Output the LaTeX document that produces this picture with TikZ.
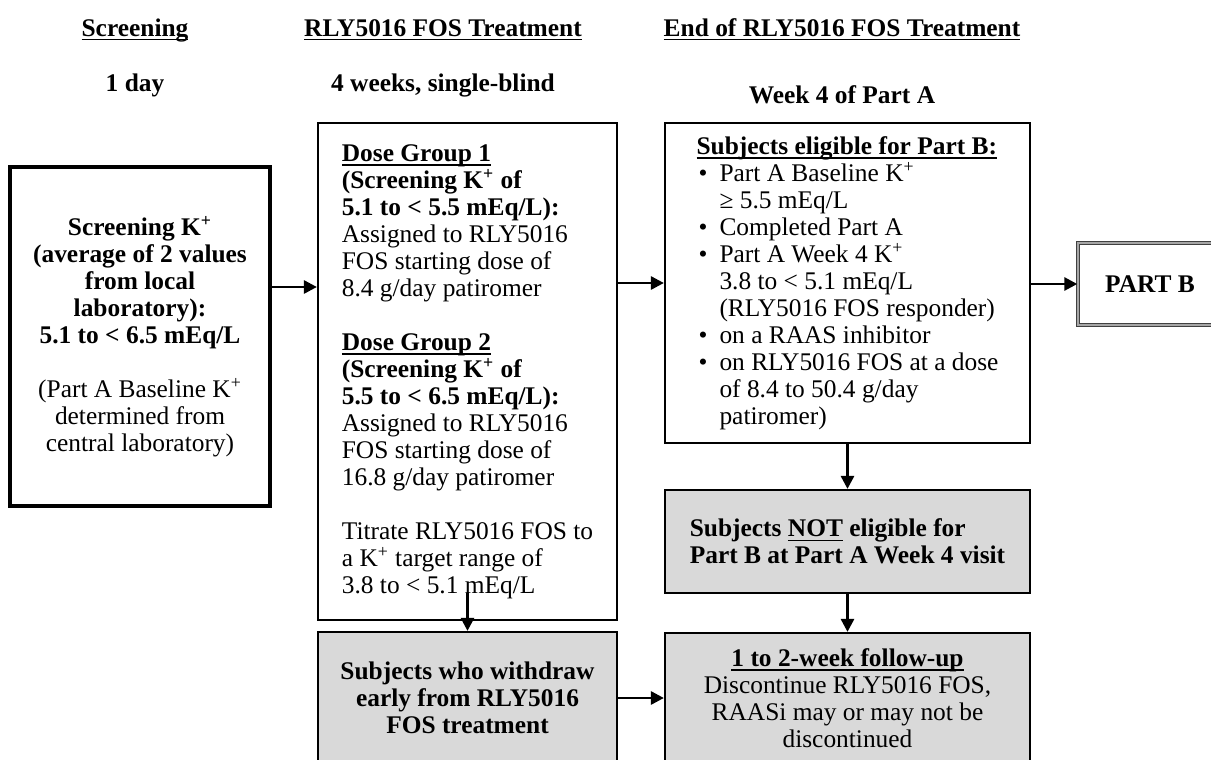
\documentclass[tikz,border=0pt]{standalone}
\usepackage{fontspec}
\setmainfont{Liberation Serif}
\usetikzlibrary{arrows.meta}
\newcommand{\myUl}[1]{\leavevmode\setbox0\hbox{#1}\rlap{\rule[-2.2pt]{\wd0}{0.7pt}}\box0\relax}
\newcommand{\myBul}{\hspace*{1pt}\makebox[10.5pt][l]{\textbullet}}
\newcommand{\myInd}{\hspace*{11.5pt}}
\newcommand{\Kp}{K\textsuperscript{+}}
\begin{document}
\begin{tikzpicture}[x=0.5pt,y=-0.5pt,
  font=\fontsize{12.7}{13.5}\selectfont,
  box/.style={draw=black, line width=1.1pt, rectangle, inner sep=0pt},
  graybox/.style={box, fill=black!15},
  arr/.style={line width=1.4pt, -{Triangle[length=6.5pt,width=6.5pt]}},
  hdr/.style={font=\fontsize{12.7}{13.5}\selectfont\bfseries, inner sep=0pt, anchor=base}]
\useasboundingbox (0,0) rectangle (1211,760);
\clip (0,0) rectangle (1211,760);

% headers
\node[hdr] (h1) at (135,36) {\myUl{Screening}};
\node[hdr] (h2) at (443,36) {\myUl{RLY5016 FOS Treatment}};
\node[hdr] (h3) at (842,36) {\myUl{End of RLY5016 FOS Treatment}};
\node[hdr] (s1) at (135,91) {1 day};
\node[hdr] (s2) at (443,91) {4 weeks, single-blind};
\node[hdr] (s3) at (842,103) {Week 4 of Part A};

% boxes
\node[box, line width=1.6pt, minimum width=130pt, minimum height=169.5pt, align=center] (scr) at (140,336.5) {%
\textbf{Screening \Kp}\\
\textbf{(average of 2 values}\\
\textbf{from local}\\
\textbf{laboratory):}\\
\textbf{5.1 to < 6.5 mEq/L}\\[13.5pt]
(Part A Baseline \Kp\\
determined from\\
central laboratory)};

\node[box, minimum width=149.5pt, minimum height=248.5pt, align=left] (mid) at (467.5,371.5) {%
\textbf{\myUl{Dose Group 1}}\\
\textbf{(Screening \Kp{} of}\\
\textbf{5.1 to < 5.5 mEq/L):}\\
Assigned to RLY5016\\
FOS starting dose of\\
8.4 g/day patiromer\\[13.5pt]
\textbf{\myUl{Dose Group 2}}\\
\textbf{(Screening \Kp{} of}\\
\textbf{5.5 to < 6.5 mEq/L):}\\
Assigned to RLY5016\\
FOS starting dose of\\
16.8 g/day patiromer\\[13.5pt]
Titrate RLY5016 FOS to\\
a \Kp{} target range of\\
3.8 to < 5.1 mEq/L};

\node[graybox, minimum width=149.5pt, minimum height=66pt, align=center, font=\fontsize{12.7}{13.5}\selectfont\bfseries] (wd) at (467.5,698) {%
Subjects who withdraw\\
early from RLY5016\\
FOS treatment};

\node[box, minimum width=182.5pt, minimum height=160pt, align=left] (rt) at (847.5,283) {%
\textbf{\myUl{Subjects eligible for Part B:}}\\
\myBul Part A Baseline \Kp\\
\myInd ≥ 5.5 mEq/L\\
\myBul Completed Part A\\
\myBul Part A Week 4 \Kp\\
\myInd 3.8 to < 5.1 mEq/L\\
\myInd (RLY5016 FOS responder)\\
\myBul on a RAAS inhibitor\\
\myBul on RLY5016 FOS at a dose\\
\myInd of 8.4 to 50.4 g/day\\
\myInd patiromer)};

\node[graybox, minimum width=182.5pt, minimum height=51.5pt, align=left, font=\fontsize{12.7}{13.5}\selectfont\bfseries] (ne) at (847.5,541.5) {%
Subjects \myUl{NOT} eligible for\\
Part B at Part A Week 4 visit};

\node[graybox, minimum width=182.5pt, minimum height=65pt, align=center] (fu) at (847.5,698) {%
\textbf{\myUl{1 to 2-week follow-up}}\\
Discontinue RLY5016 FOS,\\
RAASi may or may not be\\
discontinued};

\node[draw=black!75, line width=0.7pt, double=black!35, double distance=0.9pt, rectangle, inner sep=0pt, minimum width=72pt, minimum height=41pt, font=\fontsize{12.7}{13.5}\selectfont\bfseries] (pb) at (1150,284) {PART B};

% connectors
\coordinate (c1) at (467.5,593);
\draw[arr] (scr.east |- 0,287) -- (mid.west |- 0,287);
\draw[arr] (mid.east |- rt.west) -- (rt.west);
\draw[arr] (rt.east |- pb.west) -- (pb.west);
\draw[arr] (rt.south) -- (ne.north);
\draw[arr] (ne.south) -- (fu.north);
\draw[arr] (wd.east) -- (fu.west);
\draw[arr] (c1) -- (wd.north);
\end{tikzpicture}
\end{document}
